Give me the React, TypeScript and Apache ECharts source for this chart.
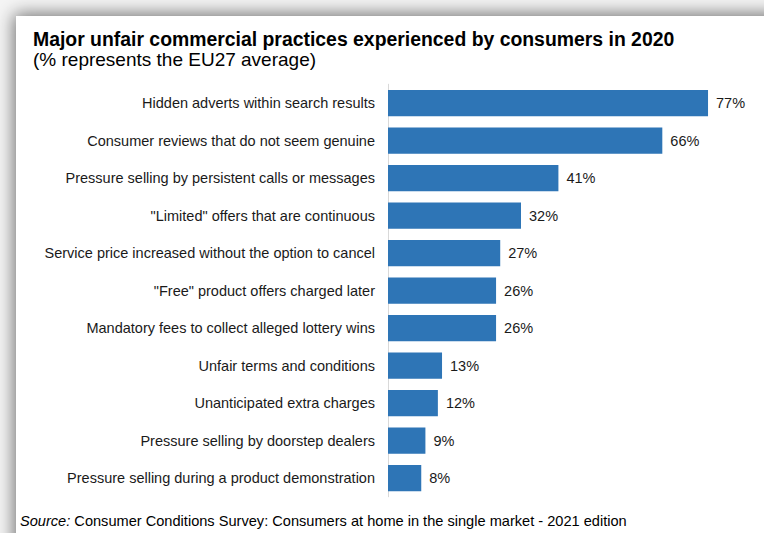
import React, { useEffect, useRef } from "react";
import * as echarts from "echarts";

const categories = [
  "Hidden adverts within search results",
  "Consumer reviews that do not seem genuine",
  "Pressure selling by persistent calls or messages",
  "\"Limited\" offers that are continuous",
  "Service price increased without the option to cancel",
  "\"Free\" product offers charged later",
  "Mandatory fees to collect alleged lottery wins",
  "Unfair terms and conditions",
  "Unanticipated extra charges",
  "Pressure selling by doorstep dealers",
  "Pressure selling during a product demonstration",
];
const values = [77, 66, 41, 32, 27, 26, 26, 13, 12, 9, 8];

const titleText = "Major unfair commercial practices experienced by consumers in 2020";
const subtitleText = "(% represents the EU27 average)";
const sourceLabel = "Source:";
const sourceText = " Consumer Conditions Survey: Consumers at home in the single market - 2021 edition";

const FONT = "'Liberation Sans', Arial, sans-serif";

export default function App() {
  const ref = useRef<HTMLDivElement>(null);
  useEffect(() => {
    if (!ref.current) return;
    const chart = echarts.init(ref.current, undefined, { renderer: "svg" });
    chart.setOption({
      animation: false,
      backgroundColor: "#f5f5f5",
      graphic: [
        {
          type: "rect",
          z: -10,
          shape: { x: 16, y: 16, width: 820, height: 600 },
          style: {
            fill: "#ffffff",
            shadowBlur: 18,
            shadowColor: "rgba(0,0,0,0.55)",
            shadowOffsetX: -2,
            shadowOffsetY: -2,
          },
        },
        {
          type: "text",
          left: 33,
          top: 29,
          style: {
            text: titleText,
            font: `bold 19.4px ${FONT}`,
            fill: "#000000",
          },
        },
        {
          type: "text",
          left: 33,
          top: 50,
          style: {
            text: subtitleText,
            font: `19px ${FONT}`,
            fill: "#000000",
          },
        },
        {
          type: "text",
          left: 20,
          top: 513,
          style: {
            text: `{i|${sourceLabel}}{n|${sourceText}}`,
            rich: {
              i: { fontStyle: "italic", fontSize: 14.6, fontFamily: FONT, fill: "#000" },
              n: { fontSize: 14.6, fontFamily: FONT, fill: "#000" },
            },
          },
        },
      ],
      grid: { left: 388, right: 43.5, top: 84.25, bottom: 36.25, containLabel: false },
      xAxis: {
        type: "value",
        min: 0,
        max: 80,
        show: false,
      },
      yAxis: {
        type: "category",
        data: categories,
        inverse: true,
        axisLine: { show: true, lineStyle: { color: "#d9d9d9", width: 1 } },
        axisTick: { show: false },
        axisLabel: {
          color: "#1a1a1a",
          fontSize: 14.5,
          fontFamily: FONT,
          margin: 13,
        },
      },
      series: [
        {
          type: "bar",
          data: values,
          barCategoryGap: "30%",
          itemStyle: { color: "#2e75b6" },
          label: {
            show: true,
            position: "right",
            distance: 8,
            formatter: "{c}%",
            color: "#1a1a1a",
            fontSize: 14.5,
            fontFamily: FONT,
          },
        },
      ],
    });
    return () => chart.dispose();
  }, []);
  return (
    <div
      ref={ref}
      style={{ position: "fixed", left: 0, top: 0, width: 764, height: 533 }}
    />
  );
}
